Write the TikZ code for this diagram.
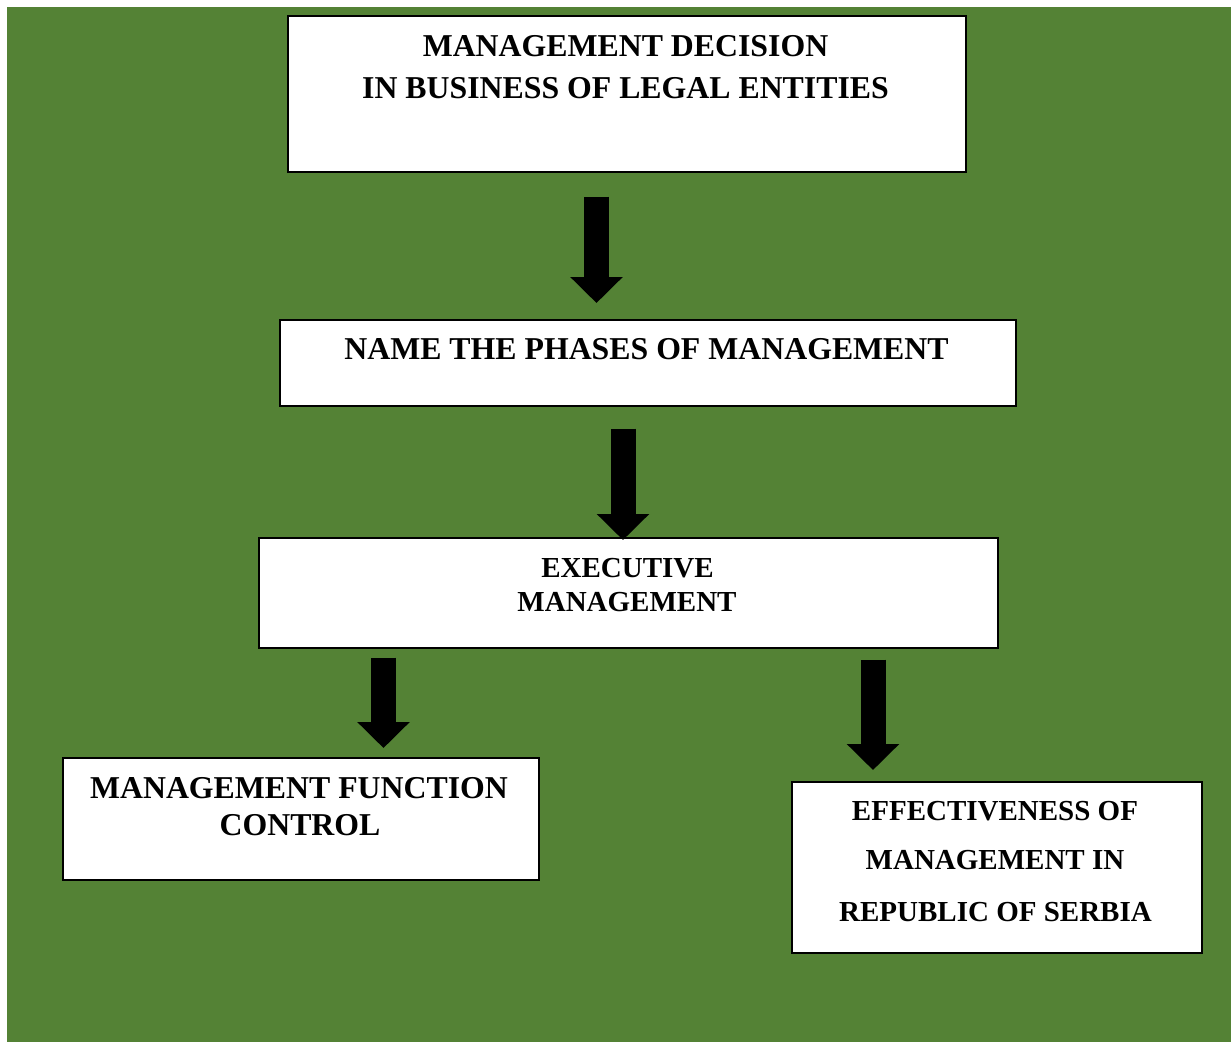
\documentclass[tikz,border=0pt]{standalone}
\usepackage{fontspec}
\setmainfont{Liberation Serif}
\usetikzlibrary{arrows.meta}
\definecolor{bggreen}{RGB}{84,130,53}
\tikzset{
  box/.style={draw=black, line width=1.6pt, fill=white, inner sep=0pt, anchor=north west},
  big/.style={font=\bfseries\fontsize{31.8}{36}\selectfont, anchor=base, inner sep=0pt},
  small/.style={font=\bfseries\fontsize{29}{34}\selectfont, anchor=base, inner sep=0pt},
  bigarrow/.style={line width=25pt, -{Triangle[length=26pt,width=51pt]}}
}
\begin{document}
\begin{tikzpicture}[x=1pt,y=-1pt]
\useasboundingbox (0,0) rectangle (1231,1042);
\fill[bggreen] (7,7) rectangle (1231,1042);
% boxes
\node[box, minimum width=678pt, minimum height=156pt] (b1) at (287,15) {};
\node[box, minimum width=736pt, minimum height=86pt] (b2) at (279,319) {};
\node[box, minimum width=739pt, minimum height=110pt] (b3) at (258,537) {};
\node[box, minimum width=476pt, minimum height=122pt] (b4) at (62,757) {};
\node[box, minimum width=410pt, minimum height=171pt] (b5) at (791,781) {};
% texts
\node[big] (t1a) at (625.5,56.5) {MANAGEMENT DECISION};
\node[big] (t1b) at (625.5,98.5) {IN BUSINESS OF LEGAL ENTITIES};
\node[big] (t2) at (646.5,359.5) {NAME THE PHASES OF MANAGEMENT};
\node[small] (t3a) at (627.5,577) {EXECUTIVE};
\node[small] (t3b) at (627,611) {MANAGEMENT};
\node[big] (t4a) at (299,798.5) {MANAGEMENT FUNCTION};
\node[big] (t4b) at (300,835.5) {CONTROL};
\node[small] (t5a) at (995,820) {EFFECTIVENESS OF};
\node[small] (t5b) at (995,869) {MANAGEMENT IN};
\node[small] (t5c) at (995.5,921) {REPUBLIC OF SERBIA};
% arrows
\coordinate (c1) at (596.5,0);
\coordinate (c2) at (623,0);
\coordinate (c3) at (383.5,0);
\coordinate (c4) at (873,0);
\draw[bigarrow, shorten <=24pt, shorten >=16pt] (b1.south -| c1) -- (b2.north -| c1);
\draw[bigarrow, shorten <=22pt, shorten >=-3pt] (b2.south -| c2) -- (b3.north -| c2);
\draw[bigarrow, shorten <=9pt, shorten >=9pt] (b3.south -| c3) -- (b4.north -| c3);
\draw[bigarrow, shorten <=11pt, shorten >=11pt] (b3.south -| c4) -- (b5.north -| c4);
\end{tikzpicture}
\end{document}
